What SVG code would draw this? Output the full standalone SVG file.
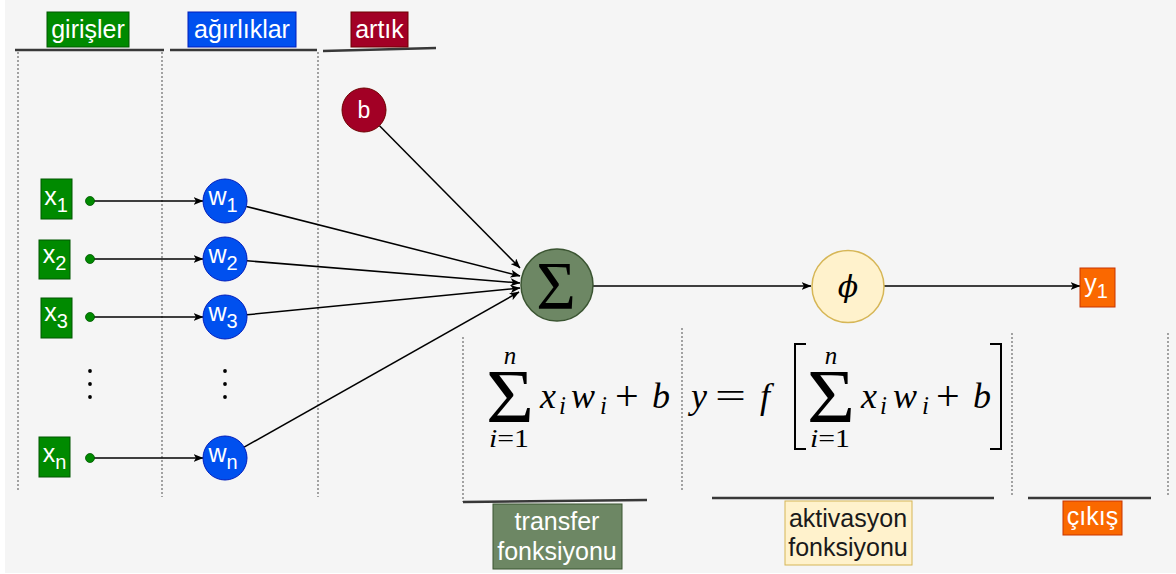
<svg xmlns="http://www.w3.org/2000/svg" width="1176" height="574" viewBox="0 0 1176 574">
<defs>
<style>
.lbl{font-family:"Liberation Sans",Arial,sans-serif;font-size:25px;text-anchor:middle;fill:#fff}
.sub{font-size:20px}
.math{font-family:"Liberation Serif","Times New Roman",serif;font-style:italic;font-size:36px;fill:#000}
.mr{font-style:normal}
.plus{font-size:42px}
.lim{font-family:"Liberation Serif","Times New Roman",serif;font-size:25px;fill:#000;text-anchor:middle}
.hline{stroke:#383838;stroke-width:2.5;fill:none}
.dot{stroke:#6b6b6b;stroke-width:1.2;stroke-dasharray:2 2;fill:none}
.edge{stroke:#000;stroke-width:1.5;fill:none}
.green{fill:#008A00;stroke:#005700;stroke-width:1}
.blue{fill:#0050EF;stroke:#001DBC;stroke-width:1}
.red{fill:#A20025;stroke:#6F0000;stroke-width:1}
.olive{fill:#6D8764;stroke:#3A5431;stroke-width:1.5}
.cream{fill:#FFF2CC;stroke:#D6B656;stroke-width:1.5}
.orange{fill:#FA6800;stroke:#C73500;stroke-width:1}
</style>
<marker id="arr" viewBox="0 0 10 8" refX="9.5" refY="4" markerWidth="10" markerHeight="8" markerUnits="userSpaceOnUse" orient="auto">
<path d="M0,0 L10,4 L0,8 L2.5,4 Z" fill="#000"/>
</marker>
</defs>
<rect x="0" y="0" width="1176" height="574" fill="#ffffff"/>
<rect x="5" y="0" width="1171" height="573" fill="#F5F5F5"/>

<g id="guides">
<line class="hline" x1="15" y1="50" x2="164" y2="50"/>
<line class="hline" x1="170" y1="50" x2="317" y2="50"/>
<line class="hline" x1="323" y1="51" x2="436" y2="48"/>
<line class="dot" x1="18" y1="52" x2="18" y2="492"/>
<line class="dot" x1="162" y1="52" x2="162" y2="497"/>
<line class="dot" x1="318" y1="52" x2="318" y2="497"/>
<line class="dot" x1="463" y1="337" x2="463" y2="502"/>
<line class="dot" x1="682" y1="328" x2="682" y2="492"/>
<line class="dot" x1="1012" y1="333" x2="1012" y2="497"/>
<line class="dot" x1="1168" y1="333" x2="1168" y2="496"/>
<line class="hline" x1="463" y1="502" x2="647" y2="500"/>
<line class="hline" x1="712" y1="498" x2="994" y2="498"/>
<line class="hline" x1="1028" y1="498" x2="1151" y2="498"/>
</g>

<g id="label-girisler"><rect class="green" x="47" y="12" width="82" height="35"/><text class="lbl" x="88" y="38">girişler</text></g>
<g id="label-agirliklar"><rect class="blue" x="188" y="12" width="108" height="35"/><text class="lbl" x="242" y="38">ağırlıklar</text></g>
<g id="label-artik"><rect class="red" x="351" y="12" width="57" height="35"/><text class="lbl" x="379.5" y="38">artık</text></g>

<g id="connectors">
<line class="edge" x1="90" y1="201" x2="203" y2="201" marker-end="url(#arr)"/>
<line class="edge" x1="90" y1="259" x2="203" y2="259" marker-end="url(#arr)"/>
<line class="edge" x1="90" y1="317" x2="203" y2="317" marker-end="url(#arr)"/>
<line class="edge" x1="90" y1="458" x2="203" y2="458" marker-end="url(#arr)"/>
<line class="edge" x1="379.5" y1="125.7" x2="520" y2="268" marker-end="url(#arr)"/>
<line class="edge" x1="246.3" y1="206.4" x2="520" y2="276" marker-end="url(#arr)"/>
<line class="edge" x1="246.9" y1="260.8" x2="520" y2="283" marker-end="url(#arr)"/>
<line class="edge" x1="246.9" y1="314.8" x2="520" y2="288" marker-end="url(#arr)"/>
<line class="edge" x1="244.1" y1="447.2" x2="519" y2="292" marker-end="url(#arr)"/>
<line class="edge" x1="593" y1="286" x2="811" y2="286" marker-end="url(#arr)"/>
<line class="edge" x1="884" y1="286" x2="1080" y2="286" marker-end="url(#arr)"/>
</g>

<g id="x1"><rect class="green" x="41" y="179" width="31" height="40"/><text class="lbl" x="56" y="205">x<tspan class="sub" dy="7">1</tspan></text></g>
<g id="x2"><rect class="green" x="39" y="240" width="31" height="39"/><text class="lbl" x="54.5" y="263">x<tspan class="sub" dy="7">2</tspan></text></g>
<g id="x3"><rect class="green" x="41" y="298" width="31" height="40"/><text class="lbl" x="56" y="321">x<tspan class="sub" dy="7">3</tspan></text></g>
<g id="xn"><rect class="green" x="39" y="437" width="31" height="40"/><text class="lbl" x="54.5" y="462">x<tspan class="sub" dy="7">n</tspan></text></g>

<g id="in-dots">
<circle cx="90" cy="201" r="4.5" fill="#008A00" stroke="#005700" stroke-width="0.8"/>
<circle cx="90" cy="259" r="4.5" fill="#008A00" stroke="#005700" stroke-width="0.8"/>
<circle cx="90" cy="317" r="4.5" fill="#008A00" stroke="#005700" stroke-width="0.8"/>
<circle cx="90" cy="458" r="4.5" fill="#008A00" stroke="#005700" stroke-width="0.8"/>
</g>

<g id="vdots-x" fill="#000"><circle cx="90" cy="371" r="1.9"/><circle cx="90" cy="384" r="1.9"/><circle cx="90" cy="397" r="1.9"/></g>
<g id="vdots-w" fill="#000"><circle cx="225" cy="371" r="1.9"/><circle cx="225" cy="384" r="1.9"/><circle cx="225" cy="397" r="1.9"/></g>

<g id="w1"><circle class="blue" cx="225" cy="201" r="22"/><text class="lbl" x="223" y="205">w<tspan class="sub" dy="7">1</tspan></text></g>
<g id="w2"><circle class="blue" cx="225" cy="259" r="22"/><text class="lbl" x="223" y="263">w<tspan class="sub" dy="7">2</tspan></text></g>
<g id="w3"><circle class="blue" cx="225" cy="317" r="22"/><text class="lbl" x="223" y="321">w<tspan class="sub" dy="7">3</tspan></text></g>
<g id="wn"><circle class="blue" cx="225" cy="458" r="22"/><text class="lbl" x="223" y="462">w<tspan class="sub" dy="7">n</tspan></text></g>

<g id="b"><circle class="red" cx="364" cy="110" r="22"/><text class="lbl" x="364" y="118" style="font-size:23px">b</text></g>

<g id="sum"><circle class="olive" cx="557" cy="285" r="36"/><text x="556" y="308" style="font-family:'Liberation Serif','Times New Roman',serif;font-size:68px;text-anchor:middle;fill:#000">Σ</text></g>

<g id="phi"><circle class="cream" cx="848" cy="286.5" r="36"/><text x="848" y="297" style="font-family:'DejaVu Serif',serif;font-style:italic;font-size:30px;text-anchor:middle;fill:#000">ϕ</text></g>

<g id="y1"><rect class="orange" x="1080" y="268" width="35" height="39"/><text class="lbl" x="1096" y="292">y<tspan class="sub" dy="6">1</tspan></text></g>

<g id="formula-transfer">
<text x="486" y="422" textLength="48" lengthAdjust="spacingAndGlyphs" style="font-family:'Liberation Serif','Times New Roman',serif;font-size:76px;fill:#000">Σ</text>
<text class="lim" x="510" y="364" font-style="italic">n</text>
<text class="lim" x="509" y="447" textLength="40" lengthAdjust="spacingAndGlyphs"><tspan font-style="italic">i</tspan>=1</text>
<text class="math" x="540" y="408">x</text>
<text class="math" x="559" y="414" style="font-size:25px">i</text>
<text class="math" x="571" y="408">w</text>
<text class="math" x="600" y="414" style="font-size:25px">i</text>
<text class="math mr plus" x="615" y="410">+</text>
<text class="math" x="652" y="408">b</text>
</g>

<g id="formula-activation">
<text class="math" x="691" y="408">y</text>
<text class="math mr" x="715" y="408" textLength="31" lengthAdjust="spacingAndGlyphs">=</text>
<text class="math" x="760" y="408">f</text>
<polyline points="806,344 795,344 795,449 806,449" fill="none" stroke="#000" stroke-width="2"/>
<text x="807" y="422" textLength="48" lengthAdjust="spacingAndGlyphs" style="font-family:'Liberation Serif','Times New Roman',serif;font-size:76px;fill:#000">Σ</text>
<text class="lim" x="831" y="364" font-style="italic">n</text>
<text class="lim" x="830" y="447" textLength="40" lengthAdjust="spacingAndGlyphs"><tspan font-style="italic">i</tspan>=1</text>
<text class="math" x="861" y="408">x</text>
<text class="math" x="880" y="414" style="font-size:25px">i</text>
<text class="math" x="893" y="408">w</text>
<text class="math" x="922" y="414" style="font-size:25px">i</text>
<text class="math mr plus" x="936" y="410">+</text>
<text class="math" x="973" y="408">b</text>
<polyline points="990,344 1001,344 1001,449 990,449" fill="none" stroke="#000" stroke-width="2"/>
</g>

<g id="label-transfer"><rect class="olive" x="493" y="504" width="129" height="65" style="stroke-width:1"/><text class="lbl" x="557" y="530">transfer</text><text class="lbl" x="557" y="560">fonksiyonu</text></g>
<g id="label-aktivasyon"><rect class="cream" x="785" y="501" width="127" height="64" style="stroke-width:1"/><text class="lbl" x="848" y="527" style="fill:#1a1a1a">aktivasyon</text><text class="lbl" x="848" y="556" style="fill:#1a1a1a">fonksiyonu</text></g>
<g id="label-cikis"><rect class="orange" x="1063" y="501" width="59" height="34"/><text class="lbl" x="1092.5" y="525">çıkış</text></g>
</svg>
